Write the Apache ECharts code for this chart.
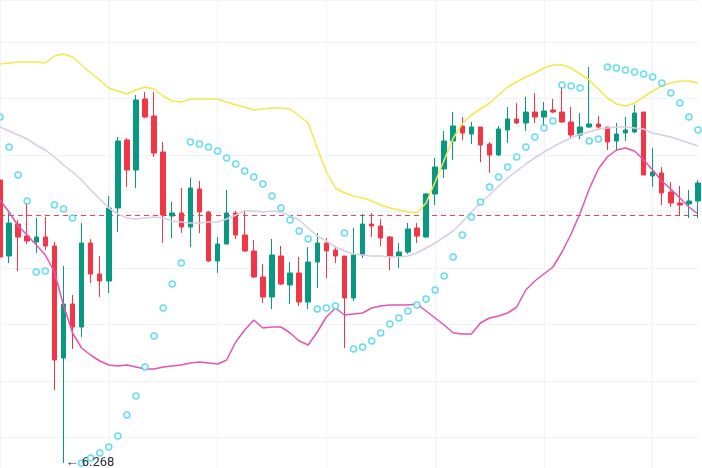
<!DOCTYPE html>
<html>
<head>
<meta charset="utf-8">
<style>
  html, body { margin: 0; padding: 0; background: #ffffff; }
  #chart { width: 702px; height: 468px; }
</style>
<script src="https://cdn.jsdelivr.net/npm/echarts@6/dist/echarts.min.js"></script>
</head>
<body>
<div id="chart"></div>
<script>
// [open, close, low, high]
const ohlc = [
  [6.551, 6.474, 6.319, 6.556], [6.475, 6.508, 6.468, 6.518], [6.507, 6.494, 6.460, 6.511],
  [6.495, 6.490, 6.487, 6.528], [6.489, 6.494, 6.478, 6.513], [6.494, 6.485, 6.481, 6.514],
  [6.485, 6.371, 6.341, 6.489], [6.373, 6.427, 6.268, 6.465], [6.427, 6.404, 6.382, 6.436],
  [6.404, 6.488, 6.394, 6.508], [6.488, 6.457, 6.448, 6.492], [6.457, 6.450, 6.434, 6.475],
  [6.450, 6.523, 6.438, 6.535], [6.523, 6.590, 6.499, 6.594], [6.591, 6.561, 6.544, 6.593],
  [6.561, 6.631, 6.543, 6.636], [6.632, 6.614, 6.613, 6.639], [6.615, 6.578, 6.574, 6.639],
  [6.579, 6.516, 6.488, 6.589], [6.515, 6.518, 6.493, 6.529], [6.518, 6.504, 6.498, 6.543],
  [6.504, 6.543, 6.484, 6.553], [6.542, 6.519, 6.498, 6.550], [6.519, 6.470, 6.469, 6.520],
  [6.470, 6.487, 6.458, 6.494], [6.487, 6.518, 6.487, 6.541], [6.518, 6.496, 6.492, 6.520],
  [6.496, 6.480, 6.479, 6.521], [6.480, 6.454, 6.453, 6.491], [6.454, 6.434, 6.428, 6.467],
  [6.434, 6.476, 6.422, 6.492], [6.475, 6.447, 6.446, 6.485], [6.446, 6.458, 6.427, 6.469],
  [6.458, 6.429, 6.425, 6.474], [6.429, 6.469, 6.422, 6.484], [6.469, 6.488, 6.443, 6.498],
  [6.488, 6.480, 6.453, 6.493], [6.481, 6.475, 6.468, 6.485], [6.475, 6.433, 6.383, 6.475],
  [6.433, 6.476, 6.430, 6.503], [6.476, 6.507, 6.473, 6.517], [6.507, 6.505, 6.494, 6.518],
  [6.505, 6.493, 6.485, 6.512], [6.494, 6.475, 6.461, 6.495], [6.475, 6.479, 6.463, 6.488],
  [6.479, 6.502, 6.477, 6.508], [6.503, 6.495, 6.488, 6.508], [6.494, 6.537, 6.493, 6.538],
  [6.537, 6.564, 6.526, 6.573], [6.562, 6.590, 6.553, 6.600], [6.590, 6.605, 6.571, 6.619],
  [6.605, 6.598, 6.591, 6.614], [6.597, 6.604, 6.587, 6.609], [6.604, 6.586, 6.569, 6.604],
  [6.587, 6.576, 6.558, 6.589], [6.576, 6.602, 6.575, 6.605], [6.601, 6.612, 6.588, 6.624],
  [6.612, 6.608, 6.607, 6.628], [6.608, 6.619, 6.600, 6.634], [6.619, 6.614, 6.608, 6.638],
  [6.614, 6.620, 6.606, 6.629], [6.621, 6.619, 6.618, 6.632], [6.619, 6.609, 6.608, 6.645],
  [6.609, 6.596, 6.593, 6.624], [6.596, 6.604, 6.592, 6.618], [6.604, 6.607, 6.603, 6.664],
  [6.607, 6.604, 6.601, 6.615], [6.604, 6.589, 6.581, 6.604], [6.590, 6.597, 6.580, 6.608],
  [6.598, 6.601, 6.590, 6.614], [6.599, 6.618, 6.598, 6.626], [6.619, 6.556, 6.556, 6.619],
  [6.555, 6.559, 6.544, 6.583], [6.558, 6.538, 6.526, 6.564], [6.539, 6.528, 6.524, 6.549],
  [6.528, 6.526, 6.515, 6.545], [6.527, 6.530, 6.513, 6.541], [6.530, 6.548, 6.513, 6.551]
];

const upperBand = [
  6.667, 6.668, 6.669, 6.669, 6.669, 6.668, 6.675, 6.677, 6.674, 6.666,
  6.658, 6.651, 6.643, 6.640, 6.637, 6.641, 6.644, 6.642, 6.635, 6.630,
  6.629, 6.632, 6.632, 6.632, 6.632, 6.629, 6.626, 6.624, 6.621, 6.622,
  6.623, 6.623, 6.622, 6.615, 6.608, 6.583, 6.559, 6.543, 6.538, 6.535,
  6.533, 6.530, 6.526, 6.523, 6.521, 6.519, 6.518, 6.528, 6.549, 6.571,
  6.593, 6.607, 6.616, 6.622, 6.628, 6.636, 6.644, 6.649, 6.654, 6.658,
  6.663, 6.666, 6.666, 6.663, 6.657, 6.651, 6.642, 6.633, 6.627, 6.625,
  6.628, 6.634, 6.640, 6.645, 6.648, 6.650, 6.650, 6.648
];

const middleBand = [
  6.604, 6.600, 6.596, 6.592, 6.586, 6.581, 6.574, 6.566, 6.559, 6.551,
  6.541, 6.532, 6.523, 6.517, 6.513, 6.512, 6.513, 6.514, 6.513, 6.510,
  6.509, 6.508, 6.508, 6.509, 6.509, 6.512, 6.516, 6.520, 6.520, 6.519,
  6.520, 6.519, 6.515, 6.511, 6.503, 6.495, 6.490, 6.484, 6.480, 6.477,
  6.476, 6.475, 6.475, 6.474, 6.474, 6.475, 6.478, 6.483, 6.488, 6.494,
  6.500, 6.509, 6.519, 6.528, 6.536, 6.545, 6.553, 6.560, 6.567, 6.573,
  6.579, 6.584, 6.589, 6.593, 6.597, 6.599, 6.602, 6.603, 6.604, 6.604,
  6.603, 6.602, 6.598, 6.596, 6.594, 6.591, 6.588, 6.585
];

const lowerBand = [
  6.531, 6.519, 6.505, 6.496, 6.486, 6.476, 6.459, 6.426, 6.398, 6.383,
  6.376, 6.370, 6.366, 6.365, 6.366, 6.364, 6.362, 6.362, 6.364, 6.365,
  6.366, 6.368, 6.369, 6.368, 6.367, 6.371, 6.389, 6.401, 6.411, 6.403,
  6.404, 6.404, 6.398, 6.390, 6.386, 6.399, 6.414, 6.423, 6.416, 6.417,
  6.418, 6.423, 6.425, 6.426, 6.426, 6.426, 6.427, 6.420, 6.413, 6.406,
  6.398, 6.397, 6.397, 6.408, 6.413, 6.415, 6.418, 6.424, 6.441, 6.450,
  6.457, 6.464, 6.479, 6.497, 6.518, 6.542, 6.562, 6.574, 6.581, 6.583,
  6.580, 6.571, 6.561, 6.550, 6.542, 6.533, 6.524, 6.517
];

const sar = [
  6.614, 6.584, 6.556, 6.530, 6.459, 6.460, 6.526, 6.522, 6.513, 6.268,
  6.273, 6.278, 6.284, 6.295, 6.316, 6.335, 6.364, 6.395, 6.423, 6.447,
  6.468, 6.589, 6.587, 6.584, 6.580, 6.573, 6.567, 6.560, 6.554, 6.547,
  6.535, 6.523, 6.511, 6.500, 6.492, 6.422, 6.423, 6.425, 6.498, 6.382,
  6.384, 6.390, 6.398, 6.407, 6.413, 6.420, 6.426, 6.432, 6.441, 6.455,
  6.474, 6.496, 6.514, 6.529, 6.544, 6.554, 6.564, 6.574, 6.584, 6.594,
  6.603, 6.610, 6.646, 6.645, 6.643, 6.590, 6.592, 6.664, 6.663, 6.661,
  6.659, 6.657, 6.654, 6.648, 6.638, 6.628, 6.614, 6.601
];

const bars = ohlc.map((_, i) => String(i));

const lowIndex = 7;
const lowPrice = 6.268;
const refPrice = 6.5155;

// visible price window, and the background grid rows (index units)
const priceMin = 6.263;
const priceMax = 6.731;
const rowMin = -0.54;
const rowMax = 7.743;

const UP = "#089981";
const DOWN = "#f23645";
const GRID = "#f0f3fa";

const chart = echarts.init(document.getElementById("chart"));

chart.setOption({
  animation: false,
  backgroundColor: "#ffffff",
  grid: { left: 0, right: 4, top: 0, bottom: 0, containLabel: false },
  xAxis: {
    type: "category",
    data: bars,
    boundaryGap: false,
    axisLine: { show: false },
    axisTick: { show: false },
    axisLabel: { show: false },
    splitLine: { show: true, interval: 11, lineStyle: { color: GRID, width: 1 } }
  },
  yAxis: [
    {
      type: "value",
      min: priceMin,
      max: priceMax,
      axisLine: { show: false },
      axisTick: { show: false },
      axisLabel: { show: false },
      splitLine: { show: false }
    },
    {
      type: "value",
      min: rowMin,
      max: rowMax,
      minInterval: 1,
      maxInterval: 1,
      axisLine: { show: false },
      axisTick: { show: false },
      axisLabel: { show: false },
      splitLine: { show: true, lineStyle: { color: GRID, width: 1 } }
    }
  ],
  series: [
    {
      // previous-close reference line
      name: "ref",
      type: "line",
      data: [[bars[0], refPrice], [bars[bars.length - 1], refPrice]],
      symbol: "none",
      silent: true,
      z: 1,
      lineStyle: { color: "#e2474f", type: [5, 4], width: 1 }
    },
    {
      name: "price",
      type: "candlestick",
      data: ohlc,
      barWidth: 5,
      z: 2,
      itemStyle: {
        color: UP,
        color0: DOWN,
        borderColor: UP,
        borderColor0: DOWN,
        borderWidth: 1
      },
      markPoint: {
        silent: true,
        symbol: "circle",
        symbolSize: 0,
        label: {
          show: true,
          position: "right",
          distance: 2,
          formatter: "← " + lowPrice.toFixed(3),
          color: "#2a2e39",
          fontSize: 13,
          fontFamily: "Roboto, 'Noto Sans', sans-serif"
        },
        data: [{ coord: [String(lowIndex), lowPrice] }]
      }
    },
    {
      name: "upper",
      type: "line",
      data: upperBand,
      symbol: "none",
      z: 3,
      lineStyle: { color: "#f3e84c", width: 1.5 }
    },
    {
      name: "basis",
      type: "line",
      data: middleBand,
      symbol: "none",
      z: 3,
      lineStyle: { color: "#d8cde4", width: 1.5 }
    },
    {
      name: "lower",
      type: "line",
      data: lowerBand,
      symbol: "none",
      z: 3,
      lineStyle: { color: "#e354b4", width: 1.5 }
    },
    {
      name: "sar",
      type: "scatter",
      data: sar,
      symbol: "circle",
      symbolSize: 6,
      z: 4,
      itemStyle: { color: "#ffffff", borderColor: "#3ed5ee", borderWidth: 1.5 }
    }
  ]
});
</script>
</body>
</html>
